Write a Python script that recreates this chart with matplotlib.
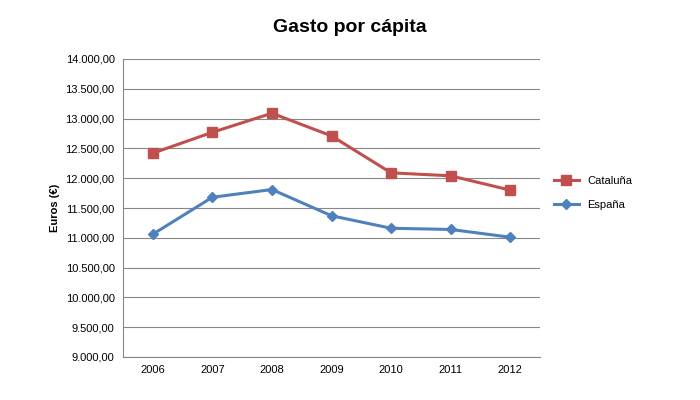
import matplotlib
matplotlib.use("Agg")
import matplotlib.pyplot as plt
from matplotlib.ticker import FuncFormatter

years = ["2006", "2007", "2008", "2009", "2010", "2011", "2012"]
cataluna = [12420, 12770, 13090, 12710, 12090, 12040, 11800]
espana = [11060, 11680, 11810, 11370, 11160, 11140, 11010]

plt.rcParams["font.family"] = "Liberation Sans"
fig = plt.figure(figsize=(7, 4), dpi=100)
ax = fig.add_axes([123/700, 1-357/400, (540-123)/700, (357-59)/400])
x = range(len(years))
ax.plot(x, cataluna, color="#C0504D", lw=2.2, marker="s", ms=7, label="Cataluña")
ax.plot(x, espana, color="#4F81BD", lw=2.2, marker="D", ms=5, label="España")
ax.set_xlim(-0.5, len(years)-0.5)
ax.set_ylim(9000, 14000)
ax.set_yticks(range(9000, 14001, 500))
ax.yaxis.set_major_formatter(FuncFormatter(lambda v, p: f"{int(v):,}".replace(",", ".") + ",00"))
ax.set_xticks(list(x))
ax.set_xticklabels(years)
ax.tick_params(labelsize=8, length=0, pad=6)
ax.grid(axis="y", color="#888888", lw=0.8)
ax.set_axisbelow(True)
for s in ["top", "right"]:
    ax.spines[s].set_visible(False)
for s in ["left", "bottom"]:
    ax.spines[s].set_color("#888888")
ax.set_ylabel("Euros (€)", fontsize=8, fontweight="bold")
fig.text(0.5, 0.92, "Gasto por cápita", ha="center", fontsize=14, fontweight="bold")
ax.legend(loc="center left", bbox_to_anchor=(1.01, 0.55), frameon=False, fontsize=8,
          handlelength=2.2, labelspacing=1.3)
fig.savefig("out.png", dpi=100)
